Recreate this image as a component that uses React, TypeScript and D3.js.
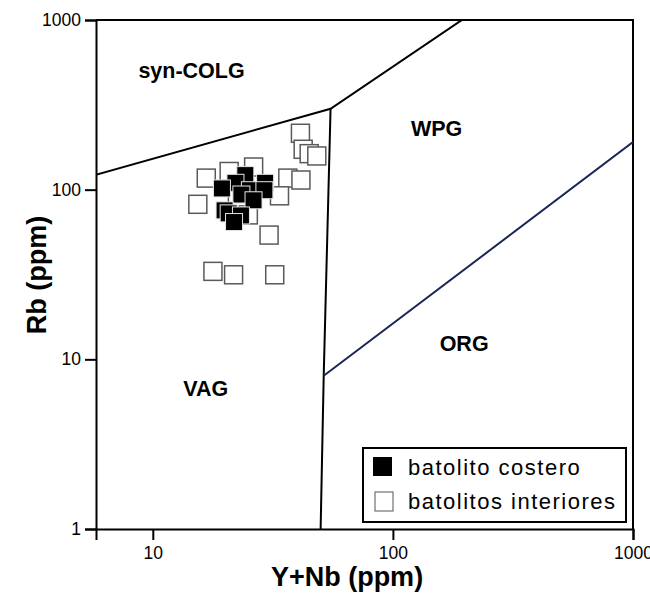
import React, { useEffect, useRef } from "react";
import * as d3 from "d3";

// Y+Nb vs Rb (Pearce et al. 1984) discrimination diagram

// batolitos interiores (open squares)
const interiorYNb = [41.2, 42.3, 44.8, 48.2, 16.7, 20.8, 26.3, 36.5, 41.4, 15.4, 33.7, 30.5, 22.5, 25.0, 17.8, 21.7, 32.2];
const interiorRb = [215, 173, 163, 158, 117, 128, 136, 117, 114, 82, 92, 54, 87, 71, 33, 31.5, 31.5];

// batolito costero (filled squares)
const costeroYNb = [24.4, 22.2, 19.5, 25.5, 29.5, 29.3, 23.5, 26.4, 20.0, 20.8, 23.4, 21.9];
const costeroRb = [121, 109, 101, 98.6, 109, 98.6, 93, 86, 75, 72, 70, 64];

// field boundaries [Y+Nb, Rb]
const colgLine: [number, number][] = [[2, 80], [55, 300], [400, 2000]];
const vagLine: [number, number][] = [[55, 300], [51.5, 8], [50, 1]];
const orgLine: [number, number][] = [[51.5, 8], [2000, 400]];

const fieldLabels = ["syn-COLG", "WPG", "ORG", "VAG"];
const fieldX = [14.5, 152, 198, 16.6];
const fieldY = [455, 207, 11.2, 6.1];

const xTicks = [10, 100, 1000];
const yTicks = [1, 10, 100, 1000];

const legendNames = ["batolito costero", "batolitos interiores"];

const W = 650;
const H = 596;
const left = 96, right = 633, top = 20, bottom = 529;
const font = "Liberation Sans, Arial, sans-serif";

const App: React.FC = () => {
  const xRef = useRef<SVGGElement>(null);
  const yRef = useRef<SVGGElement>(null);

  const x = d3.scaleLog().domain([5.8, 1000]).range([left, right]);
  const y = d3.scaleLog().domain([1, 1000]).range([bottom, top]);

  useEffect(() => {
    const xAxis = d3.axisBottom(x).tickValues(xTicks).tickSize(11).tickSizeOuter(11).tickPadding(7).tickFormat(d3.format("d"));
    const yAxis = d3.axisLeft(y).tickValues(yTicks).tickSize(11).tickSizeOuter(11).tickPadding(4).tickFormat(d3.format("d"));
    const gx = d3.select(xRef.current).call(xAxis);
    const gy = d3.select(yRef.current).call(yAxis);
    [gx, gy].forEach((g: any) => {
      g.attr("font-family", font).attr("font-size", 17.5);
      g.selectAll("path,line").attr("stroke", "#000").attr("stroke-width", 2);
      g.selectAll("text").attr("fill", "#000");
    });
  }, []);

  const line = d3.line<[number, number]>().x((d) => x(d[0])).y((d) => y(d[1]));
  const s = 18;

  return (
    <svg width={W} height={H} style={{ position: "absolute", left: 0, top: 0, background: "#fff" }}>
      <defs>
        <clipPath id="plot">
          <rect x={left} y={top} width={right - left} height={bottom - top} />
        </clipPath>
      </defs>
      {/* frame top / right */}
      <path d={`M${left},${top}H${right}V${bottom}`} fill="none" stroke="#000" strokeWidth={2} />
      <g clipPath="url(#plot)" fill="none" strokeWidth={2}>
        <path d={line(colgLine) as string} stroke="#000" />
        <path d={line(vagLine) as string} stroke="#000" />
        <path d={line(orgLine) as string} stroke="#1b2555" />
      </g>
      {fieldLabels.map((t, i) => (
        <text key={t} x={x(fieldX[i])} y={y(fieldY[i])} textAnchor="middle" fontFamily={font} fontWeight="bold" fontSize={21.5}>
          {t}
        </text>
      ))}
      <g>
        {interiorYNb.map((v, i) => (
          <rect key={"i" + i} x={x(v) - s / 2} y={y(interiorRb[i]) - s / 2} width={s} height={s} fill="#fff" stroke="#5a5a5a" strokeWidth={1.5} />
        ))}
        {costeroYNb.map((v, i) => (
          <rect key={"c" + i} x={x(v) - s / 2} y={y(costeroRb[i]) - s / 2} width={s - 1} height={s - 1} fill="#000" stroke="#e6e6e6" strokeWidth={1} />
        ))}
      </g>
      <g ref={xRef} transform={`translate(0,${bottom})`} />
      <g ref={yRef} transform={`translate(${left},0)`} />
      {/* legend */}
      <g fontFamily={font} fontSize={22} letterSpacing={1.5}>
        <rect x={363} y={448} width={263} height={74} fill="#fff" stroke="#000" strokeWidth={2} />
        <rect x={373} y={457} width={19} height={19} fill="#000" />
        <rect x={375} y={492} width={18} height={19} fill="#fff" stroke="#555" strokeWidth={1} />
        <text x={408} y={475}>{legendNames[0]}</text>
        <text x={408} y={509}>{legendNames[1]}</text>
      </g>
      <text x={347} y={586} textAnchor="middle" fontFamily={font} fontWeight="bold" fontSize={27}>
        Y+Nb (ppm)
      </text>
      <text transform={`translate(46,275) rotate(-90)`} textAnchor="middle" fontFamily={font} fontWeight="bold" fontSize={27}>
        Rb (ppm)
      </text>
    </svg>
  );
};

export default App;
